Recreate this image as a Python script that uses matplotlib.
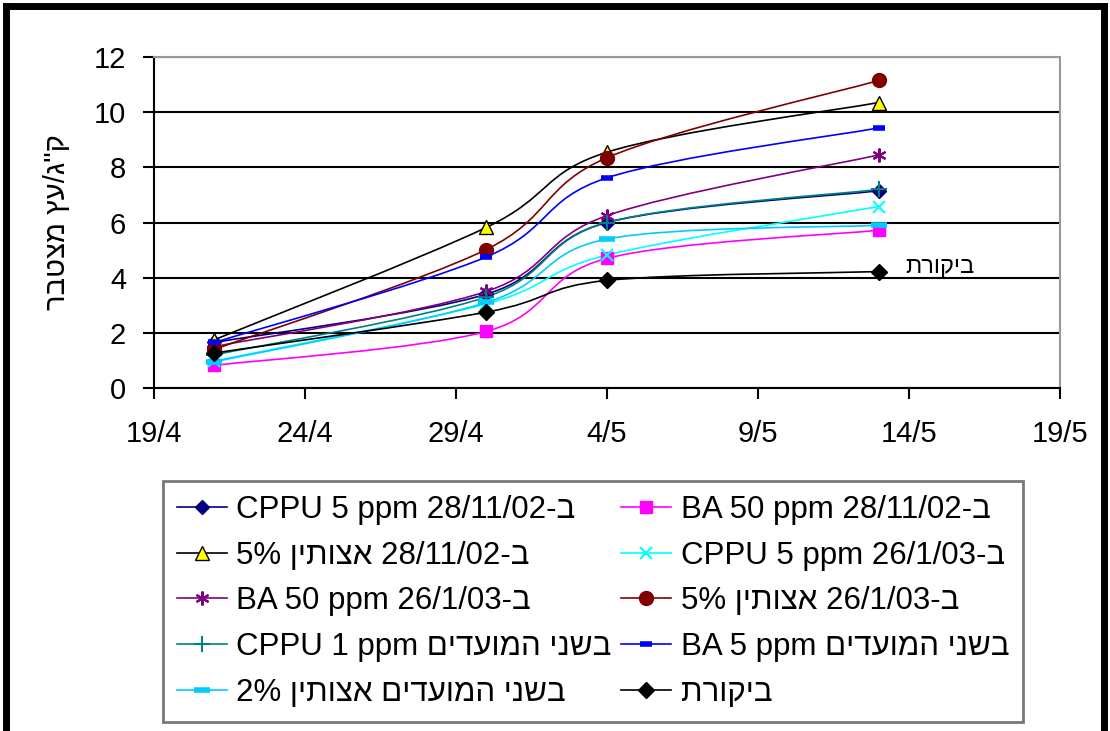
import datetime as dt
import matplotlib
matplotlib.use("Agg")
import matplotlib.pyplot as plt
import matplotlib.dates as mdates
from matplotlib.path import Path
from matplotlib.patches import PathPatch
from matplotlib.lines import Line2D
from matplotlib.ticker import FuncFormatter

plt.rcParams['font.family'] = ['Liberation Sans', 'DejaVu Sans']

# sampling dates
dates = ['2003-04-21', '2003-04-30', '2003-05-04', '2003-05-13']

# cumulative kg/tree
cppu5_nov = [1.65, 3.4, 6.0, 7.15]
ba50_nov = [0.82, 2.05, 4.7, 5.72]
az5_nov = [1.75, 5.82, 8.55, 10.35]
cppu5_jan = [0.98, 3.05, 4.82, 6.58]
ba50_jan = [1.5, 3.5, 6.25, 8.45]
az5_jan = [1.4, 5.02, 8.35, 11.15]
cppu1_both = [1.2, 3.3, 6.0, 7.2]
ba5_both = [1.65, 4.75, 7.62, 9.43]
az2_both = [0.95, 3.1, 5.4, 5.9]
control = [1.27, 2.75, 3.9, 4.22]

# labels in visual (left-to-right) order
labels = [
    'CPPU 5 ppm 28/11/02-ב',
    'BA 50 ppm 28/11/02-ב',
    '5% ןיתוצא 28/11/02-ב',
    'CPPU 5 ppm 26/1/03-ב',
    'BA 50 ppm 26/1/03-ב',
    '5% ןיתוצא 26/1/03-ב',
    'CPPU 1 ppm םידעומה ינשב',
    'BA 5 ppm םידעומה ינשב',
    '2% ןיתוצא םידעומה ינשב',
    'תרוקיב',
]
series = [cppu5_nov, ba50_nov, az5_nov, cppu5_jan, ba50_jan,
          az5_jan, cppu1_both, ba5_both, az2_both, control]

styles = [
    dict(color='#000080', marker='D', mfc='#000080', mec='#000080', ms=7),
    dict(color='#FF00FF', marker='s', mfc='#FF00FF', mec='#FF00FF', ms=8),
    dict(color='#000000', marker='^', mfc='#FFFF00', mec='#000000', ms=10),
    dict(color='#00FFFF', marker='x', mfc='#00FFFF', mec='#00FFFF', ms=8, mew=1.5),
    dict(color='#800080', marker=(6, 2, 0), mfc='#800080', mec='#800080', ms=10, mew=1.5),
    dict(color='#800000', marker='o', mfc='#800000', mec='#800000', ms=10),
    dict(color='#008080', marker='+', mfc='#008080', mec='#008080', ms=11, mew=1.5),
    dict(color='#0000FF', marker='_', mfc='#0000FF', mec='#0000FF', ms=9, mew=4),
    dict(color='#00CCFF', marker='_', mfc='#00CCFF', mec='#00CCFF', ms=12, mew=4),
    dict(color='#000000', marker='D', mfc='#000000', mec='#000000', ms=8),
]

x = mdates.date2num([dt.datetime.strptime(d, '%Y-%m-%d') for d in dates])

fig = plt.figure(figsize=(11.1, 7.31), dpi=100)
ax = fig.add_axes([154 / 1110, 1 - 388 / 731, (1060 - 154) / 1110, (388 - 57) / 731])


def smooth_path(xs, ys):
    # excel style smoothed line: catmull-rom converted to cubic bezier
    pts = list(zip(xs, ys))
    n = len(pts)
    verts = [pts[0]]
    codes = [Path.MOVETO]
    for i in range(n - 1):
        p0 = pts[max(i - 1, 0)]
        p1 = pts[i]
        p2 = pts[i + 1]
        p3 = pts[min(i + 2, n - 1)]
        c1 = (p1[0] + (p2[0] - p0[0]) / 6, p1[1] + (p2[1] - p0[1]) / 6)
        c2 = (p2[0] - (p3[0] - p1[0]) / 6, p2[1] - (p3[1] - p1[1]) / 6)
        verts += [c1, c2, p2]
        codes += [Path.CURVE4] * 3
    return Path(verts, codes)


handles = []
for ys, st, lab in zip(series, styles, labels):
    ax.add_patch(PathPatch(smooth_path(x, ys), fill=False, edgecolor=st['color'],
                           lw=1.2, zorder=3))
    ax.plot(x, ys, linestyle='none', marker=st['marker'], ms=st['ms'],
            mfc=st['mfc'], mec=st['mec'], mew=st.get('mew', 1), zorder=4)
    handles.append(Line2D([], [], color=st['color'], lw=1.2, marker=st['marker'],
                          ms=st['ms'], mfc=st['mfc'], mec=st['mec'],
                          mew=st.get('mew', 1)))

ax.annotate(labels[-1], xy=(x[-1], control[-1]), xytext=(19, 3),
            textcoords='offset points', fontsize=17, va='center', ha='left')

ax.set_xlim(mdates.date2num(dt.datetime(2003, 4, 19)), mdates.date2num(dt.datetime(2003, 5, 19)))
ax.set_ylim(0, 12)
ax.set_xticks([mdates.date2num(dt.datetime(2003, 4, 19)) + 5 * k for k in range(7)])
ax.xaxis.set_major_formatter(FuncFormatter(
    lambda v, p: f'{mdates.num2date(v).day}/{mdates.num2date(v).month}'))
ax.set_yticks(range(0, 13, 2))
ax.tick_params(axis='both', direction='out', length=8, width=1.5, labelsize=21)
ax.tick_params(axis='x', pad=15)
ax.tick_params(axis='y', pad=12)
ax.yaxis.grid(True, color='black', lw=1.5)
ax.set_axisbelow(True)
for s in ['left', 'bottom']:
    ax.spines[s].set_linewidth(1.5)
for s in ['top', 'right']:
    ax.spines[s].set_color('#999999')
    ax.spines[s].set_linewidth(1.5)

fig.text(57 / 1110, 1 - 222 / 731, 'רבטצמ ץע/ג"ק', rotation=90, ha='center',
         va='center', fontsize=21)

# legend filled row by row as in the original
order = [0, 2, 4, 6, 8, 1, 3, 5, 7, 9]
leg = fig.legend([handles[i] for i in order], [labels[i] for i in order], ncol=2,
                 loc='upper left', bbox_to_anchor=(163 / 1110, 1 - 481 / 731),
                 borderaxespad=0, fontsize=22.5, frameon=True, fancybox=False,
                 edgecolor='#555555', handlelength=1.6, handletextpad=0.3,
                 columnspacing=0.3, labelspacing=0.5, borderpad=0.45)
leg.get_frame().set_linewidth(2)

# outer chart frame
for xs_, ys_ in [((6 / 1110, 6 / 1110), (-0.1, 1 - 6 / 731)),
                 ((6 / 1110, 1104 / 1110), (1 - 6 / 731, 1 - 6 / 731)),
                 ((1104 / 1110, 1104 / 1110), (-0.1, 1 - 6 / 731))]:
    fig.add_artist(Line2D(xs_, ys_, color='black', lw=5, transform=fig.transFigure))

fig.savefig('out.png', dpi=100)
